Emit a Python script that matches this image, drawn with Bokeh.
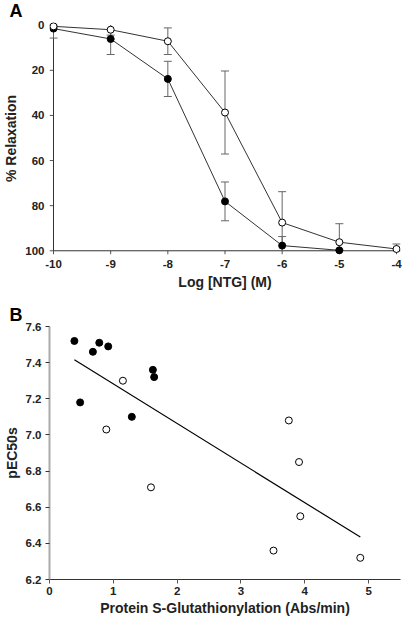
import numpy as np
from bokeh.plotting import figure
from bokeh.layouts import column
from bokeh.models import Range1d, FixedTicker, PrintfTickFormatter, Title
from bokeh.embed import file_html
from bokeh.resources import INLINE

FONT = "Liberation Sans"

# ---------------- Panel A data ----------------
log_ntg_ticks = [-10, -9, -8, -7, -6, -5, -4]
log_ntg_tick_labels = ["-10", "-9", "-8", "-7", "-6", "-5", "-4"]
relax_ticks = [0, 20, 40, 60, 80, 100]
relax_tick_labels = ["0", "20", "40", "60", "80", "100"]

ntg_filled = [-10, -9, -8, -7, -6, -5]
relax_filled = [1.5, 6.1, 23.8, 78.1, 97.7, 99.8]
relax_filled_err = [4.2, 6.9, 7.8, 8.6, 4.0, 0.4]

ntg_open = [-10, -9, -8, -7, -6, -5, -4]
relax_open = [0.5, 2.0, 7.1, 38.7, 87.5, 96.2, 99.2]
relax_open_err = [0.5, 2.4, 5.9, 18.4, 13.7, 8.2, 2.2]

# ---------------- Panel B data ----------------
glut_ticks = [0, 1, 2, 3, 4, 5]
glut_tick_labels = ["0", "1", "2", "3", "4", "5"]
pec_ticks = [6.2, 6.4, 6.6, 6.8, 7.0, 7.2, 7.4, 7.6]

glut_filled = [0.39, 0.48, 0.68, 0.78, 0.92, 1.29, 1.62, 1.64]
pec50_filled = [7.52, 7.18, 7.46, 7.51, 7.49, 7.10, 7.36, 7.32]
glut_open = [0.89, 1.15, 1.59, 3.51, 3.75, 3.91, 3.93, 4.87]
pec50_open = [7.03, 7.30, 6.71, 6.36, 7.08, 6.85, 6.55, 6.32]

AXIS_DARK = "#333333"
TICK_COL = "#555555"
ERR_COL = "#666666"
TEXT_COL = "#222222"


def style_axes(p):
    for ax in (p.xaxis[0], p.yaxis[0]):
        ax.major_tick_in = 0
        ax.major_tick_out = 4
        ax.minor_tick_line_color = None
        ax.major_tick_line_color = TICK_COL
        ax.axis_line_color = AXIS_DARK
        ax.major_label_text_font = FONT
        ax.major_label_text_font_style = "bold"
        ax.major_label_text_font_size = "11.5px"
        ax.major_label_text_color = TEXT_COL
        ax.axis_label_text_font = FONT
        ax.axis_label_text_font_style = "bold"
        ax.axis_label_text_font_size = "14px"
        ax.axis_label_text_color = TEXT_COL
        ax.major_label_standoff = 4
        ax.axis_label_standoff = 3
    p.xgrid.grid_line_color = None
    p.ygrid.grid_line_color = None
    p.outline_line_color = None
    p.background_fill_color = "white"
    p.border_fill_color = "white"


def panel_letter(p, letter):
    p.add_layout(Title(text=letter, align="left", vertical_align="top",
                       offset=-40, standoff=0,
                       text_font=FONT, text_font_style="bold",
                       text_font_size="18px", text_color="black"), "above")


# ---------------- Panel A ----------------
# the frame is padded by about one tick length so that end markers are not cut;
# axis lines and ticks are drawn at the data positions of the first/last ticks
x_lo, x_hi = -10.07, -3.93
y_bottom, y_top = 101.65, -1.2
pa = figure(width=404, height=304,
            x_range=Range1d(x_lo, x_hi), y_range=Range1d(y_bottom, y_top),
            output_backend="svg", toolbar_location=None,
            min_border_left=10, min_border_right=4, min_border_top=2,
            min_border_bottom=50)
style_axes(pa)
for ax in (pa.xaxis[0], pa.yaxis[0]):
    ax.axis_line_color = None
    ax.major_tick_out = 0
    ax.major_label_standoff = 5
pa.xaxis.ticker = FixedTicker(ticks=log_ntg_ticks)
pa.xaxis.major_label_overrides = dict(zip(log_ntg_ticks, log_ntg_tick_labels))
pa.yaxis.ticker = FixedTicker(ticks=relax_ticks)
pa.yaxis.major_label_overrides = dict(zip(relax_ticks, relax_tick_labels))
pa.xaxis.axis_label = "Log [NTG] (M)"
pa.yaxis.axis_label = "% Relaxation"

xt = np.array(log_ntg_ticks, float)
yt = np.array(relax_ticks, float)
pa.segment(xt, np.full_like(xt, yt[-1]), xt, np.full_like(xt, y_bottom),
           line_color=TICK_COL, line_width=1)
pa.segment(np.full_like(yt, xt[0]), yt, np.full_like(yt, x_lo), yt,
           line_color=TICK_COL, line_width=1)
pa.segment([xt[0]], [yt[-1]], [x_hi], [yt[-1]], line_color=AXIS_DARK, line_width=1)
pa.segment([xt[0]], [y_top], [xt[0]], [yt[-1]], line_color=AXIS_DARK, line_width=1)

lo_lim, hi_lim = relax_ticks[0], relax_ticks[-1]


def draw_err(p, xs, ys, es):
    xs = np.array(xs, float)
    ys = np.array(ys, float)
    es = np.array(es, float)
    lo = ys - es
    hi = ys + es
    p.segment(xs, np.clip(lo, lo_lim, hi_lim), xs, np.clip(hi, lo_lim, hi_lim),
              line_color=ERR_COL, line_width=1)
    m_lo = lo >= lo_lim
    m_hi = hi <= hi_lim
    p.scatter(xs[m_lo], lo[m_lo], marker="dash", size=8, line_color=ERR_COL, line_width=1)
    p.scatter(xs[m_hi], hi[m_hi], marker="dash", size=8, line_color=ERR_COL, line_width=1)


draw_err(pa, ntg_filled, relax_filled, relax_filled_err)
draw_err(pa, ntg_open, relax_open, relax_open_err)
pa.line(ntg_filled, relax_filled, line_color="#333333", line_width=1)
pa.line(ntg_open, relax_open, line_color="#333333", line_width=1)
pa.scatter(ntg_filled, relax_filled, size=7, fill_color="black", line_color="black")
pa.scatter(ntg_open, relax_open, size=7, fill_color="white", line_color="black", line_width=1)

panel_letter(pa, "A")

# ---------------- Panel B ----------------
pb = figure(width=404, height=315,
            x_range=Range1d(0, 5.5), y_range=Range1d(pec_ticks[0], pec_ticks[-1]),
            output_backend="svg", toolbar_location=None,
            min_border_left=10, min_border_right=2, min_border_top=2,
            min_border_bottom=40)
style_axes(pb)
pb.yaxis.axis_line_color = "#aaaaaa"
pb.yaxis.axis_line_width = 2
pb.yaxis.major_tick_line_color = AXIS_DARK
pb.xaxis.major_label_standoff = 3
pb.xaxis.axis_label_standoff = 2
pb.xaxis.ticker = FixedTicker(ticks=glut_ticks)
pb.xaxis.major_label_overrides = dict(zip(glut_ticks, glut_tick_labels))
pb.yaxis.ticker = FixedTicker(ticks=pec_ticks)
pb.yaxis.formatter = PrintfTickFormatter(format="%.1f")
pb.xaxis.axis_label = "Protein S-Glutathionylation (Abs/min)"
pb.yaxis.axis_label = "pEC50s"

all_x = np.array(glut_filled + glut_open)
all_y = np.array(pec50_filled + pec50_open)
slope, intercept = np.polyfit(all_x, all_y, 1)
fit_x = np.array([all_x.min(), all_x.max()])
pb.line(fit_x, intercept + slope * fit_x, line_color="black", line_width=1.2)

pb.scatter(glut_filled, pec50_filled, size=7, fill_color="black", line_color="black")
pb.scatter(glut_open, pec50_open, size=7, fill_color="white", line_color="black", line_width=1)

panel_letter(pb, "B")

layout = column(pa, pb, spacing=0)
open("out.html", "w").write(file_html(layout, INLINE))
